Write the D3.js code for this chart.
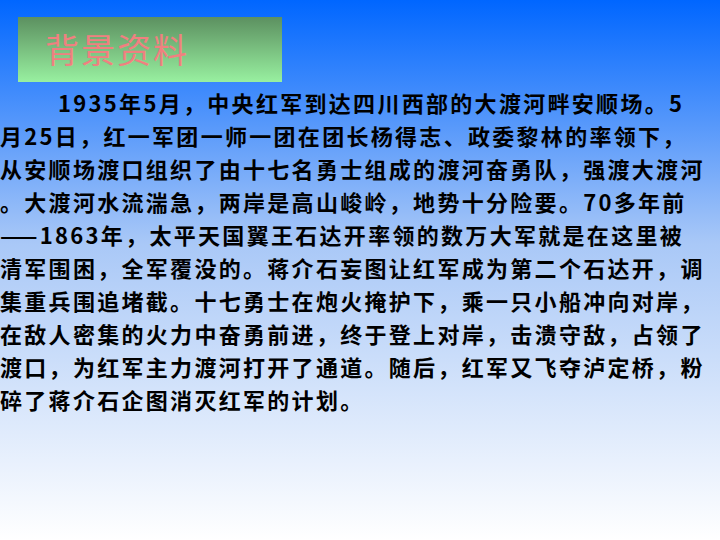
<!DOCTYPE html>
<html>
<head>
<meta charset="utf-8">
<script src="https://cdn.jsdelivr.net/npm/d3@7"></script>
<style>
  body { margin: 0; }
  text { font-family: "Noto Sans CJK SC", sans-serif; }
</style>
</head>
<body>
<script>
var width = 720, height = 540;

// slide content
var title = "背景资料";
var paragraph = "1935年5月，中央红军到达四川西部的大渡河畔安顺场。5月25日，红一军团一师一团在团长杨得志、政委黎林的率领下，从安顺场渡口组织了由十七名勇士组成的渡河奋勇队，强渡大渡河。大渡河水流湍急，两岸是高山峻岭，地势十分险要。70多年前——1863年，太平天国翼王石达开率领的数万大军就是在这里被清军围困，全军覆没的。蒋介石妄图让红军成为第二个石达开，调集重兵围追堵截。十七勇士在炮火掩护下，乘一只小船冲向对岸，在敌人密集的火力中奋勇前进，终于登上对岸，击溃守敌，占领了渡口，为红军主力渡河打开了通道。随后，红军又飞夺泸定桥，粉碎了蒋介石企图消灭红军的计划。";

var svg = d3.select("body").append("svg")
  .attr("width", width).attr("height", height);

var defs = svg.append("defs");
var bg = defs.append("linearGradient").attr("id", "bg")
  .attr("x1", 0).attr("y1", 0).attr("x2", 0).attr("y2", 1);
bg.append("stop").attr("offset", "0%").attr("stop-color", "#0066ff");
bg.append("stop").attr("offset", "45%").attr("stop-color", "#a9c8f7");
bg.append("stop").attr("offset", "100%").attr("stop-color", "#ffffff");

var tg = defs.append("linearGradient").attr("id", "tg")
  .attr("x1", 0).attr("y1", 0).attr("x2", 0).attr("y2", 1);
tg.append("stop").attr("offset", "0%").attr("stop-color", "#5c9060");
tg.append("stop").attr("offset", "100%").attr("stop-color", "#98f0a0");

svg.append("rect").attr("width", width).attr("height", height).attr("fill", "url(#bg)");

svg.append("rect").attr("x", 18).attr("y", 17).attr("width", 264).attr("height", 65)
  .attr("fill", "url(#tg)");
svg.append("text").attr("x", 45).attr("y", 63)
  .attr("font-size", 34).attr("letter-spacing", 2)
  .attr("fill", "#f08080").text(title);

// wrap paragraph into lines
var maxW = 708, lineH = 33, y0 = 112;
var body = svg.append("g");
var chars = Array.from(paragraph);
var lines = [], cur = "", first = true;
var probe = body.append("text").attr("font-size", 22).attr("font-weight", "bold")
  .attr("letter-spacing", 2.3);
chars.forEach(function(c) {
  var indent = lines.length === 0 ? 58 : 0;
  probe.text(cur + c);
  if (probe.node().getComputedTextLength() + indent > maxW) {
    lines.push(cur); cur = c;
  } else cur += c;
});
if (cur) lines.push(cur);
probe.remove();

body.selectAll("text").data(lines).enter().append("text")
  .attr("x", function(d, i) { return i === 0 ? 58 : 0; })
  .attr("y", function(d, i) { return y0 + i * lineH; })
  .attr("font-size", 22).attr("font-weight", "bold")
  .attr("letter-spacing", 2.3).attr("fill", "#000")
  .text(function(d) { return d; });
</script>
</body>
</html>
